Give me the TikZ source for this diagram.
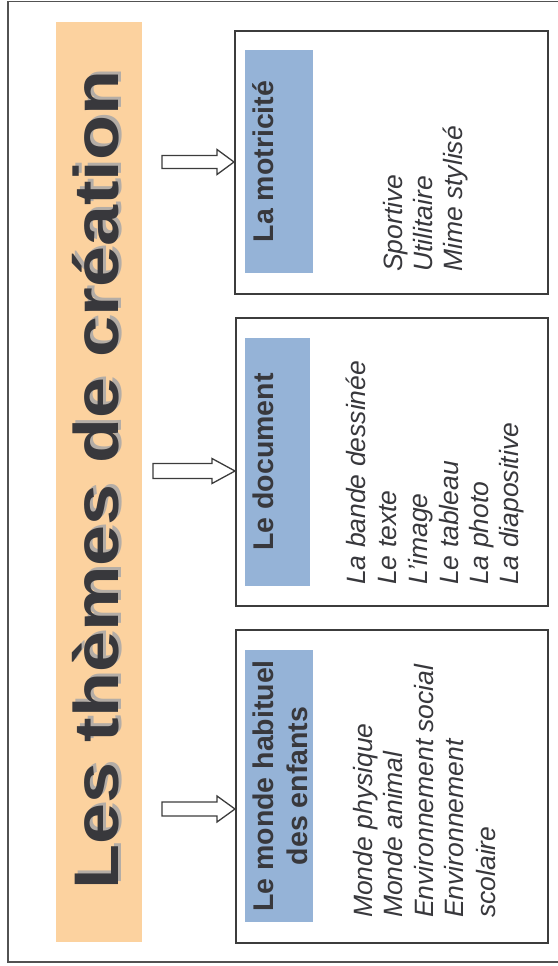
\documentclass[tikz,border=0pt]{standalone}
\usepackage{fontspec}
\setmainfont{Liberation Sans}
\usetikzlibrary{calc}
\definecolor{peach}{HTML}{FCD29F}
\definecolor{headblue}{HTML}{95B3D7}
\definecolor{ink}{HTML}{38383C}
\definecolor{shade}{HTML}{B4ADA6}
\definecolor{edge}{HTML}{3C3C3C}
\begin{document}
\begin{tikzpicture}[x=1pt,y=-1pt,
  frame/.style={draw=black!68, line width=1.6pt},
  box/.style={draw=edge, line width=2pt, fill=white, inner sep=0, anchor=north west},
  headbox/.style={fill=headblue, inner sep=0, anchor=north west},
  band/.style={fill=peach, inner sep=0, anchor=north west},
  blk/.style={draw=edge, line width=1.3pt, fill=white, line join=miter},
  titletext/.style={rotate=90, anchor=base, inner sep=0, font=\fontsize{63}{63}\selectfont\bfseries},
  headtext/.style={rotate=90, anchor=base, inner sep=0, text=ink, font=\fontsize{28.5}{30}\selectfont\bfseries},
  itemtext/.style={rotate=90, anchor=base west, inner sep=0, text=ink, font=\fontsize{26.5}{30}\selectfont\itshape}]
\useasboundingbox (0,0) rectangle (557,966);
% outer frame (right side runs off the page)
\draw[frame] (565,1.5) -- (8,1.5) -- (8,962) -- (565,962);
% orange band with title
\node[band, minimum width=86pt, minimum height=920pt] (band) at (56,22) {};
\node[titletext, text=shade] (titleshadow) at (121,477) {\scalebox{1.17}[1]{Les thèmes de création}};
\node[titletext, text=ink] (title) at (118,480) {\scalebox{1.17}[1]{Les thèmes de création}};
% boxes
\node[box, minimum width=313pt, minimum height=263pt] (mot) at (234,30) {};
\node[box, minimum width=312pt, minimum height=288pt] (doc) at (235,317) {};
\node[box, minimum width=312pt, minimum height=313pt] (mon) at (235,629) {};
% header fills
\node[headbox, minimum width=68pt, minimum height=223pt] (h1) at (245,50) {};
\node[headbox, minimum width=65pt, minimum height=248pt] (h2) at (245,338) {};
\node[headbox, minimum width=68pt, minimum height=272pt] (h3) at (245,650) {};
% header texts
\node[headtext] (t1) at (273,161.5) {La motricité};
\node[headtext] (t2) at (273,462) {Le document};
\node[headtext] (t3a) at (273,786) {Le monde habituel};
\node[headtext] (t3b) at (307,786) {des enfants};
% items: motricite
\node[itemtext] (m1) at (402,272) {Sportive};
\node[itemtext] (m2) at (432,272) {Utilitaire};
\node[itemtext] (m3) at (462,272) {Mime stylisé};
% items: document
\node[itemtext] (d1) at (365,585) {La bande dessinée};
\node[itemtext] (d2) at (396,585) {Le texte};
\node[itemtext] (d3) at (427,585) {L’image};
\node[itemtext] (d4) at (458,585) {Le tableau};
\node[itemtext] (d5) at (488,585) {La photo};
\node[itemtext] (d6) at (518,585) {La diapositive};
% items: monde
\node[itemtext] (w1) at (372,918) {Monde physique};
\node[itemtext] (w2) at (402,918) {Monde animal};
\node[itemtext] (w3) at (433,918) {Environnement social};
\node[itemtext] (w4) at (463,918) {Environnement};
\node[itemtext] (w5) at (495,918) {scolaire};
% block arrows
\coordinate (s1) at (162,162);
\coordinate (s2) at (153,471);
\coordinate (s3) at (162,809);
\draw[blk] ($(s1)+(0,-6.5)$) -- ($(mot.west|-s1)+(-17,-6.5)$) -- ++(0,-6) -- (mot.west|-s1)
  -- ($(mot.west|-s1)+(-17,12.5)$) -- ++(0,-6) -- ($(s1)+(0,6.5)$) -- cycle;
\draw[blk] ($(s2)+(0,-7.5)$) -- ($(doc.west|-s2)+(-23,-7.5)$) -- ++(0,-5) -- (doc.west|-s2)
  -- ($(doc.west|-s2)+(-23,12.5)$) -- ++(0,-5) -- ($(s2)+(0,7.5)$) -- cycle;
\draw[blk] ($(s3)+(0,-7)$) -- ($(mon.west|-s3)+(-18,-7)$) -- ++(0,-6) -- (mon.west|-s3)
  -- ($(mon.west|-s3)+(-18,13)$) -- ++(0,-6) -- ($(s3)+(0,7)$) -- cycle;
\end{tikzpicture}
\end{document}
